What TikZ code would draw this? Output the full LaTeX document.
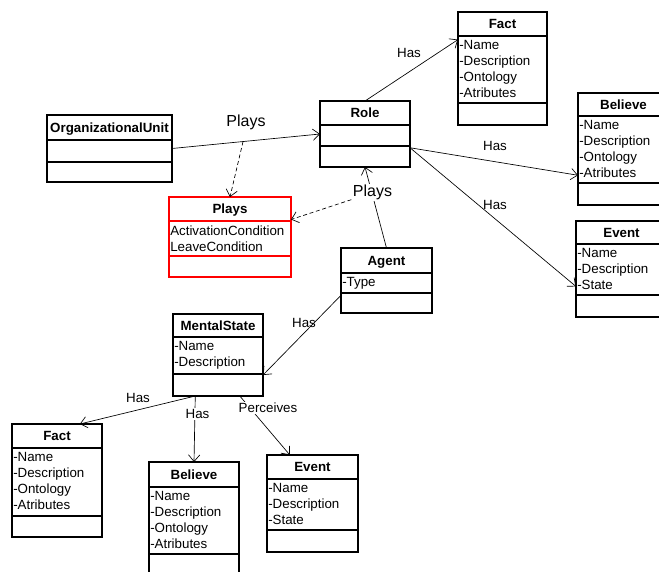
\documentclass[tikz,border=0pt]{standalone}
\usepackage{fontspec}
\setmainfont{Liberation Sans}
\usetikzlibrary{arrows.meta}
\definecolor{PlaysRed}{rgb}{1, 0, 0}

\begin{document}
\begin{tikzpicture}[x=0.75pt,y=0.75pt,yscale=-1,xscale=1,
	classbox/.style={draw=#1, line width=0.8pt, inner sep=0pt, outer sep=0pt},
	classbox/.default=black,
	divider/.style={line width=0.8pt},
	title/.style={anchor=base, inner sep=0pt, font=\fontsize{10}{12}\selectfont\bfseries},
	attrs/.style={anchor=north west, inner sep=0pt, align=left, font=\fontsize{10}{12}\selectfont},
	assoc/.style={line width=0.5pt, -{Straight Barb[length=5pt,width=8.5pt]}},
	dep/.style={assoc, dash pattern={on 3pt off 2pt}},
	lbl/.style={inner sep=1pt, font=\fontsize{10}{12}\selectfont},
	biglbl/.style={inner sep=1pt, font=\fontsize{12}{14}\selectfont}]
						\useasboundingbox (0,0) rectangle (659,571);
						\clip (0,0) rectangle (659,571);

						%Class: OrganizationalUnit
						\node [classbox, minimum width=93.75pt, minimum height=50.25pt] (ou) at (109.5,148.5) {};
						\draw [divider] (ou.west |- 0,140) -- (ou.east |- 0,140) ;
						\draw [divider] (ou.west |- 0,162) -- (ou.east |- 0,162) ;
						\node [title] (ou-t) at (109.5,132.3) {OrganizationalUnit};
						%Class: Role
						\node [classbox, minimum width=67.5pt, minimum height=49.5pt] (role) at (365,134) {};
						\draw [divider] (role.west |- 0,125) -- (role.east |- 0,125) ;
						\draw [divider] (role.west |- 0,146) -- (role.east |- 0,146) ;
						\node [title] (role-t) at (365,117.8) {Role};
						%Class: Fact (top)
						\node [classbox, minimum width=66.75pt, minimum height=84.75pt] (fact1) at (502.5,68.5) {};
						\draw [divider] (fact1.west |- 0,36) -- (fact1.east |- 0,36) ;
						\draw [divider] (fact1.west |- 0,103) -- (fact1.east |- 0,103) ;
						\node [title] (fact1-t) at (502.5,28.8) {Fact};
						\node [attrs] (fact1-a) at (459,40.2) {-Name\\-Description\\-Ontology\\-Atributes};
						%Class: Believe (top)
						\node [classbox, minimum width=68.25pt, minimum height=84pt] (bel1) at (623.5,149) {};
						\draw [divider] (bel1.west |- 0,116) -- (bel1.east |- 0,116) ;
						\draw [divider] (bel1.west |- 0,183) -- (bel1.east |- 0,183) ;
						\node [title] (bel1-t) at (623.5,109.3) {Believe};
						\node [attrs] (bel1-a) at (579,120.2) {-Name\\-Description\\-Ontology\\-Atributes};
						%Class: Event (top)
						\node [classbox, minimum width=68.25pt, minimum height=72pt] (ev1) at (621.5,269) {};
						\draw [divider] (ev1.west |- 0,244) -- (ev1.east |- 0,244) ;
						\draw [divider] (ev1.west |- 0,295) -- (ev1.east |- 0,295) ;
						\node [title] (ev1-t) at (621.5,237.3) {Event};
						\node [attrs] (ev1-a) at (577,248.2) {-Name\\-Description\\-State};
						%Class: Plays
						\node [classbox=PlaysRed, color=PlaysRed, minimum width=91.5pt, minimum height=60pt] (plays) at (230,237) {};
						\draw [divider, draw=PlaysRed] (plays.west |- 0,221) -- (plays.east |- 0,221) ;
						\draw [divider, draw=PlaysRed] (plays.west |- 0,256) -- (plays.east |- 0,256) ;
						\node [title] (plays-t) at (230,213.8) {Plays};
						\node [attrs] (plays-a) at (170,225.2) {ActivationCondition\\LeaveCondition};
						%Class: Agent
						\node [classbox, minimum width=68.25pt, minimum height=48.75pt] (agent) at (386.5,280.5) {};
						\draw [divider] (agent.west |- 0,273) -- (agent.east |- 0,273) ;
						\draw [divider] (agent.west |- 0,293) -- (agent.east |- 0,293) ;
						\node [title] (agent-t) at (386.5,265.3) {Agent};
						\node [attrs] (agent-a) at (342,277.2) {-Type};
						%Class: MentalState
						\node [classbox, minimum width=67.5pt, minimum height=61.5pt] (ms) at (218,355) {};
						\draw [divider] (ms.west |- 0,337) -- (ms.east |- 0,337) ;
						\draw [divider] (ms.west |- 0,374) -- (ms.east |- 0,374) ;
						\node [title] (ms-t) at (218,330.3) {MentalState};
						\node [attrs] (ms-a) at (174,341.2) {-Name\\-Description};
						%Class: Fact (bottom)
						\node [classbox, minimum width=67.5pt, minimum height=84.75pt] (fact2) at (57,480.5) {};
						\draw [divider] (fact2.west |- 0,448) -- (fact2.east |- 0,448) ;
						\draw [divider] (fact2.west |- 0,516) -- (fact2.east |- 0,516) ;
						\node [title] (fact2-t) at (57,440.8) {Fact};
						\node [attrs] (fact2-a) at (13,452.2) {-Name\\-Description\\-Ontology\\-Atributes};
						%Class: Believe (bottom)
						\node [classbox, minimum width=67.5pt, minimum height=88.5pt] (bel2) at (194,521) {};
						\draw [divider] (bel2.west |- 0,487) -- (bel2.east |- 0,487) ;
						\draw [divider] (bel2.west |- 0,554) -- (bel2.east |- 0,554) ;
						\node [title] (bel2-t) at (194,479.3) {Believe};
						\node [attrs] (bel2-a) at (150,491.2) {-Name\\-Description\\-Ontology\\-Atributes};
						%Class: Event (bottom)
						\node [classbox, minimum width=68.25pt, minimum height=72.75pt] (ev2) at (312.5,503.5) {};
						\draw [divider] (ev2.west |- 0,479) -- (ev2.east |- 0,479) ;
						\draw [divider] (ev2.west |- 0,530) -- (ev2.east |- 0,530) ;
						\node [title] (ev2-t) at (312.5,471.8) {Event};
						\node [attrs] (ev2-a) at (268,483.2) {-Name\\-Description\\-State};

						%Associations
						\draw [assoc] (ou.east) -- coordinate [pos=0.48] (ou-role) (role.west) ;
						\draw [dep] (ou-role) -- (plays.north) ;
						\draw [assoc] (role.north) -- (fact1.147) ;
						\draw [assoc] (role.-17) -- (bel1.210) ;
						\draw [assoc] (role.-17) -- (ev1.201) ;
						\draw [assoc] (agent.north) -- (role.south) ;
						\draw [assoc] (agent.198) -- (ms.-24) ;
						\draw [assoc] (ms.241) -- (fact2.68) ;
						\draw [assoc] (ms.241) -- (bel2.north) ;
						\draw [assoc] (ms.-62) -- (ev2.115) ;

						% Text Node
						\node [biglbl] (ou-plays) at (246,122.7) {Plays};
						% Text Node
						\node [biglbl, fill=white] (agent-plays) at (372.5,192.7) {Plays};
						\draw [dep] (agent-plays) -- (plays.16) ;
						% Text Node
						\node [lbl] (has-fact1) at (409,53) {Has};
						% Text Node
						\node [lbl] (has-bel1) at (495,146) {Has};
						% Text Node
						\node [lbl] (has-ev1) at (495,205) {Has};
						% Text Node
						\node [lbl] (has-ms) at (304,323) {Has};
						% Text Node
						\node [lbl] (has-fact2) at (138,397.5) {Has};
						% Text Node
						\node [lbl, fill=white] (has-bel2) at (197.5,414) {Has};
						% Text Node
						\node [lbl, fill=white] (perceives) at (268,408) {Perceives};

\end{tikzpicture}
\end{document}
